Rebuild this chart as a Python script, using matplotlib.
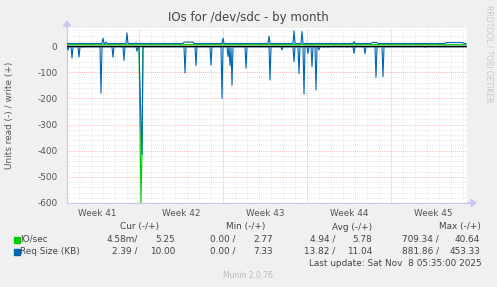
import numpy as np
import matplotlib
matplotlib.use("Agg")
import matplotlib.pyplot as plt

W, H = 497, 287

# ---------------- data (days from left edge of plot, 12 px/day) ----------------
week_labels = ["Week 41", "Week 42", "Week 43", "Week 44", "Week 45"]
week_label_pos = [2.5, 9.5, 16.5, 23.5, 30.5]
week_bounds = [6, 13, 20, 27]
n_days = 400 / 12.0

io_write_base = 5.0
io_read_base = -1.5
req_write_base = 9.5
req_read_base = -3.0

# (day, value) points
io_read_spikes = [(6.08, -300), (6.17, -600), (6.25, -400)]
io_write_spikes = [(12.96, 9), (16.9, 8), (19.5, 9), (23.9, 10), (29.8, 7)]
req_read_spikes = [
    (0.08, -15), (0.42, -46), (1.0, -42), (1.33, -5), (2.83, -180), (3.875, -43),
    (4.75, -55), (5.83, -20), (6.08, -150), (6.17, -300), (6.25, -415),
    (9.83, -103), (10.75, -75), (11.97, -73), (12.89, -200),
    (13.39, -40), (13.58, -75), (13.79, -150), (14.92, -85), (16.92, -130),
    (17.89, -15), (18.92, -60), (19.36, -105), (19.78, -183), (20.08, -28),
    (20.39, -79), (20.75, -168), (21.0, -15), (21.42, -5), (21.75, -5),
    (23.33, -5), (23.92, -28), (24.83, -30), (25.79, -120), (26.36, -117),
    (29.83, -5),
]
req_write_spikes = [
    (2.97, 30), (3.25, 15), (4.97, 50), (5.75, 12), (12.96, 30), (16.85, 38),
    (18.92, 58), (19.56, 55), (23.92, 17),
]
req_write_steps = [(9.75, 10.5, 15), (25.4, 25.8, 13), (31.6, 33.0, 13)]

# ---------------- build per-pixel series ----------------
npx = 400
days = np.arange(npx) / 12.0


def series(base, spikes, steps=()):
    arr = np.full(npx, float(base))
    for a, b, v in steps:
        arr[int(round(a * 12)):int(round(b * 12)) + 1] = v
    for d, v in spikes:
        arr[int(round(d * 12))] = v
    return arr


io_w = series(io_write_base, io_write_spikes)
io_r = series(io_read_base, io_read_spikes)
rq_w = series(req_write_base, req_write_spikes, req_write_steps)
rq_r = series(req_read_base, req_read_spikes)

# ---------------- figure ----------------
fig = plt.figure(figsize=(W / 100, H / 100), dpi=100, facecolor="#F0F0F0")
L, R, T, B = 67, 467, 28, 203
ax = fig.add_axes([L / W, 1 - B / H, (R - L) / W, (B - T) / H])
ax.set_facecolor("white")
ymin, ymax = -600, 68.8
ax.set_xlim(0, n_days)
ax.set_ylim(ymin, ymax)

# grid
for d in range(1, int(n_days) + 1):
    if d in week_bounds:
        continue
    ax.axvline(d, color="#DDDDDD", lw=0.6, ls=(0, (1, 1.5)), zorder=0)
for y in range(-580, 61, 20):
    if y % 100 == 0:
        continue
    ax.axhline(y, color="#DDDDDD", lw=0.6, ls=(0, (1, 1.5)), zorder=0)
for d in week_bounds:
    ax.axvline(d, color="#F2A0A0", lw=0.6, ls=(0, (1, 1.5)), zorder=0)
for y in range(-500, 1, 100):
    ax.axhline(y, color="#F2A0A0", lw=0.6, ls=(0, (1, 1.5)), zorder=0)

# data
ax.plot(days, io_w, color="#00CC00", lw=0.8, zorder=3)
ax.plot(days, io_r, color="#00CC00", lw=0.8, zorder=3)
ax.plot(days, rq_w, color="#0066B3", lw=0.8, zorder=4)
ax.plot(days, rq_r, color="#0066B3", lw=0.8, zorder=4)
ax.axhline(0, color="black", lw=1.0, zorder=5)

# axes styling
for s in ["top", "right"]:
    ax.spines[s].set_visible(False)
for s in ["left", "bottom"]:
    ax.spines[s].set_color("#C8C8E8")
    ax.spines[s].set_linewidth(0.8)
fs = 6.4
ax.set_xticks(week_label_pos)
ax.set_xticklabels(week_labels)
ax.tick_params(axis="x", length=0, pad=4, labelsize=fs, colors="#555555")
ax.set_yticks(list(range(-600, 1, 100)))
ax.set_yticklabels([str(v) for v in range(-600, 1, 100)])
ax.tick_params(axis="y", length=0, pad=7, labelsize=fs, colors="#555555")

# arrows on axes
fig.patches.append(matplotlib.patches.FancyArrow(
    R / W, 1 - B / H, 4 / W, 0, width=0, head_width=7 / H, head_length=5 / W,
    length_includes_head=False, color="#C8C8F0", transform=fig.transFigure))
fig.patches.append(matplotlib.patches.FancyArrow(
    L / W, 1 - T / H, 0, 2 / H, width=0, head_width=7 / W, head_length=5 / H,
    length_includes_head=False, color="#C8C8F0", transform=fig.transFigure))


def ftxt(x, y, s, **kw):
    fig.text(x / W, 1 - y / H, s, **kw)


tc = "#444444"
ftxt(248, 17, "IOs for /dev/sdc - by month", ha="center", va="center", fontsize=8.5, color=tc)
ftxt(10, 115, "Units read (-) / write (+)", ha="center", va="center", rotation=90, fontsize=fs, color="#555555")
ftxt(489, 5, "RRDTOOL / TOBI OETIKER", ha="center", va="top", rotation=270, fontsize=5.5, color="#C8C8C8")

# legend
hy = 227
ftxt(140, hy, "Cur (-/+)", ha="center", va="center", fontsize=fs, color=tc)
ftxt(246, hy, "Min (-/+)", ha="center", va="center", fontsize=fs, color=tc)
ftxt(352, hy, "Avg (-/+)", ha="center", va="center", fontsize=fs, color=tc)
ftxt(460, hy, "Max (-/+)", ha="center", va="center", fontsize=fs, color=tc)

rows = [
    ("IO/sec", "#00CC00", ["4.58m/", "5.25", "0.00 /", "2.77", "4.94 /", "5.78", "709.34 /", "40.64"]),
    ("Req Size (KB)", "#0066B3", ["2.39 /", "10.00", "0.00 /", "7.33", "13.82 /", "11.04", "881.86 /", "453.33"]),
]
rights = [138, 175, 236, 273, 335, 372, 439, 480]
for i, (name, col, vals) in enumerate(rows):
    y = 239.5 + i * 12
    fig.patches.append(matplotlib.patches.Rectangle(
        (14 / W, 1 - (y + 3) / H), 6 / W, 6 / H, color=col, transform=fig.transFigure))
    ftxt(20, y, name, ha="left", va="center", fontsize=fs, color=tc)
    for xr, v in zip(rights, vals):
        ftxt(xr, y, v, ha="right", va="center", fontsize=fs, color=tc)

ftxt(482, 263, "Last update: Sat Nov  8 05:35:00 2025", ha="right", va="center", fontsize=fs, color=tc)
ftxt(248, 275, "Munin 2.0.76", ha="center", va="center", fontsize=5.5, color="#BBBBBB")

fig.savefig("out.png", dpi=100, facecolor=fig.get_facecolor())
